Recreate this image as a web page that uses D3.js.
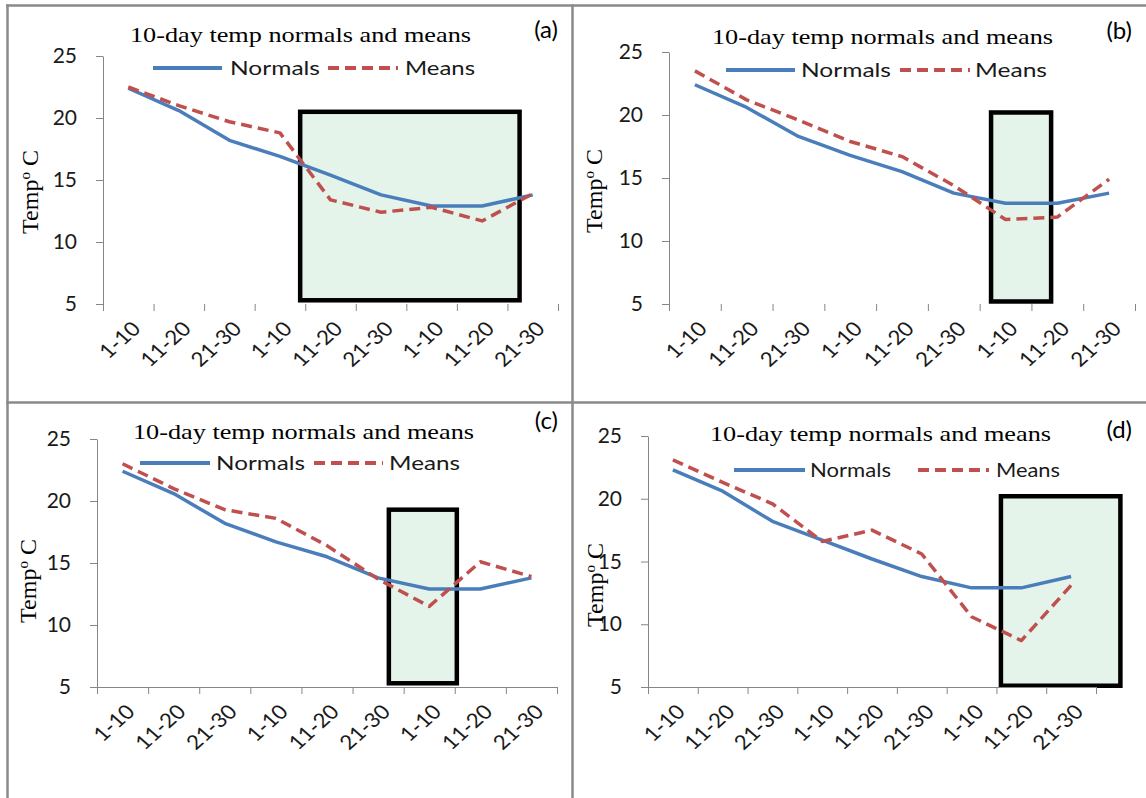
<!DOCTYPE html>
<html>
<head>
<meta charset="utf-8">
<script src="https://cdn.jsdelivr.net/npm/d3@7"></script>
<style>
  body { margin: 0; background: #fff; }
  svg { display: block; }
</style>
</head>
<body>
<svg id="chart" width="1146" height="798"></svg>
<script>
// x categories: three months split in 10-day blocks
const categories = ["1-10", "11-20", "21-30", "1-10", "11-20", "21-30", "1-10", "11-20", "21-30"];
const yTicks = [5, 10, 15, 20, 25];

const normalsA = [22.4, 20.6, 18.2, 16.9, 15.4, 13.8, 12.9, 12.9, 13.8];
const meansA   = [22.5, 21.0, 19.7, 18.8, 13.4, 12.4, 12.8, 11.7, 13.9];
const normalsB = [22.4, 20.6, 18.3, 16.8, 15.5, 13.8, 13.0, 13.0, 13.8];
const meansB   = [23.5, 21.2, 19.6, 17.9, 16.7, 14.4, 11.7, 11.9, 14.9];
const normalsC = [22.4, 20.6, 18.2, 16.7, 15.5, 13.8, 12.9, 12.9, 13.8];
const meansC   = [23.0, 21.0, 19.3, 18.6, 16.4, 13.7, 11.5, 15.1, 13.9];
const normalsD = [22.3, 20.6, 18.2, 16.7, 15.2, 13.8, 12.9, 12.9, 13.8];
const meansD   = [23.1, 21.3, 19.6, 16.6, 17.5, 15.6, 10.6, 8.7, 13.1];

// highlighted periods: [from category, to category, low temp, high temp]
const boxA = [3.9, 8.24, 5.3, 20.5];
const boxB = [6.22, 7.38, 5.2, 20.2];
const boxC = [5.71, 7.04, 5.3, 19.3];
const boxD = [7.09, 9.49, 5.1, 20.2];

const blue = "#4a7ebb", red = "#c0504d", axisColor = "#868686";

const panels = [
  { label: "(a)", normals: normalsA, means: meansA, box: boxA, baseline: false,
    left: 103, right: 558, top: 56, bottom: 304, titleX: 130, titleY: 42,
    legY: 68, leg: [153, 222, 230, 320, 328, 398, 405, 475], yTitle: [30, 192], labelPos: [558, 38] },
  { label: "(b)", normals: normalsB, means: meansB, box: boxB, baseline: false,
    left: 669, right: 1135, top: 52, bottom: 304, titleX: 712, titleY: 44,
    legY: 70, leg: [726, 795, 801, 891, 900, 970, 975, 1047], yTitle: [594, 191], labelPos: [1132, 39] },
  { label: "(c)", normals: normalsC, means: meansC, box: boxC, baseline: true,
    left: 97, right: 557, top: 439, bottom: 687, titleX: 133, titleY: 439,
    legY: 463, leg: [140, 210, 216, 305, 314, 383, 389, 460], yTitle: [28, 581], labelPos: [558, 429] },
  { label: "(d)", normals: normalsD, means: meansD, box: boxD, baseline: true,
    left: 648, right: 1096, top: 436, bottom: 687, titleX: 710, titleY: 441,
    legY: 470, leg: [734, 805, 810, 891, 918, 989, 996, 1060], yTitle: [595, 585], labelPos: [1132, 438] }
];

const svg = d3.select("#chart");
svg.append("rect").attr("width", 1146).attr("height", 798).attr("fill", "#fff");

// frame lines between the four panels
const frame = svg.append("g").attr("stroke", "#8a8a8a").attr("stroke-width", 2.5);
frame.append("line").attr("x1", 7.5).attr("x2", 7.5).attr("y1", 4.5).attr("y2", 798);
frame.append("line").attr("x1", 6).attr("x2", 1146).attr("y1", 5.5).attr("y2", 5.5);
frame.append("line").attr("x1", 572.5).attr("x2", 572.5).attr("y1", 4.5).attr("y2", 798);
frame.append("line").attr("x1", 6).attr("x2", 1146).attr("y1", 402.5).attr("y2", 402.5);

panels.forEach(drawPanel);

function drawPanel(p) {
  const g = svg.append("g");
  const idx = d3.range(categories.length);
  const x = d3.scaleBand().domain(idx).range([p.left, p.right]);
  const xs = d3.scaleLinear().domain([0, categories.length]).range([p.left, p.right]);
  const y = d3.scaleLinear().domain([5, 25]).range([p.bottom, p.top]);

  // highlight box
  g.append("rect")
    .attr("x", xs(p.box[0]))
    .attr("y", y(p.box[3]))
    .attr("width", xs(p.box[1]) - xs(p.box[0]))
    .attr("height", y(p.box[2]) - y(p.box[3]))
    .attr("fill", "#e4f4ea")
    .attr("stroke", "#000")
    .attr("stroke-width", 4.5);

  // y axis
  const yAxis = g.append("g")
    .attr("transform", "translate(" + p.left + ",0)")
    .call(d3.axisLeft(y).tickValues(yTicks).tickSize(7).tickSizeOuter(0).tickPadding(19));
  yAxis.select(".domain").attr("stroke", axisColor);
  yAxis.selectAll(".tick line").attr("stroke", axisColor);
  yAxis.selectAll(".tick text")
    .attr("font-family", "Lato, 'Open Sans', sans-serif")
    .attr("font-size", 21)
    .attr("fill", "#1a1a1a");

  // x axis: ticks on category boundaries
  const xAxis = g.append("g")
    .attr("transform", "translate(0," + p.bottom + ")")
    .call(d3.axisBottom(xs).tickValues(d3.range(categories.length + 1)).tickSize(7)
      .tickSizeOuter(0).tickFormat(""));
  xAxis.select(".domain").attr("stroke", p.baseline ? axisColor : "none");
  xAxis.selectAll(".tick line").attr("stroke", axisColor);

  g.selectAll(".xlab")
    .data(categories)
    .join("text")
    .attr("class", "xlab")
    .attr("transform", (d, i) => "translate(" + (x(i) + x.bandwidth() / 2 + 8) + "," + (p.bottom + 21) + ") scale(1.12,1) rotate(-45)")
    .attr("text-anchor", "end")
    .attr("dy", "0.35em")
    .attr("font-family", "Lato, 'Open Sans', sans-serif")
    .attr("font-size", 20)
    .attr("fill", "#1a1a1a")
    .text(d => d);

  // series
  const line = d3.line()
    .x((d, i) => x(i) + x.bandwidth() / 2)
    .y(d => y(d));

  g.append("path")
    .attr("d", line(p.normals))
    .attr("fill", "none")
    .attr("stroke", blue)
    .attr("stroke-width", 3.5)
    .attr("stroke-linejoin", "round");

  g.append("path")
    .attr("d", line(p.means))
    .attr("fill", "none")
    .attr("stroke", red)
    .attr("stroke-width", 3.5)
    .attr("stroke-linejoin", "round")
    .attr("stroke-dasharray", "11,6");

  // title
  g.append("text")
    .attr("x", p.titleX)
    .attr("y", p.titleY)
    .attr("textLength", 341)
    .attr("lengthAdjust", "spacingAndGlyphs")
    .attr("font-family", "'Liberation Serif', 'Times New Roman', serif")
    .attr("font-size", 22)
    .attr("fill", "#000")
    .text("10-day temp normals and means");

  // legend
  const L = p.leg;
  g.append("line").attr("x1", L[0]).attr("x2", L[1]).attr("y1", p.legY).attr("y2", p.legY)
    .attr("stroke", blue).attr("stroke-width", 4);
  g.append("text").attr("x", L[2]).attr("y", p.legY).attr("dy", "0.35em")
    .attr("textLength", L[3] - L[2]).attr("lengthAdjust", "spacingAndGlyphs")
    .attr("font-family", "Lato, 'Open Sans', sans-serif").attr("font-size", 19)
    .attr("fill", "#1a1a1a").text("Normals");
  g.append("line").attr("x1", L[4]).attr("x2", L[5]).attr("y1", p.legY).attr("y2", p.legY)
    .attr("stroke", red).attr("stroke-width", 4).attr("stroke-dasharray", "11,6");
  g.append("text").attr("x", L[6]).attr("y", p.legY).attr("dy", "0.35em")
    .attr("textLength", L[7] - L[6]).attr("lengthAdjust", "spacingAndGlyphs")
    .attr("font-family", "Lato, 'Open Sans', sans-serif").attr("font-size", 19)
    .attr("fill", "#1a1a1a").text("Means");

  // y axis title
  const yt = g.append("text")
    .attr("transform", "translate(" + p.yTitle[0] + "," + p.yTitle[1] + ") rotate(-90)")
    .attr("text-anchor", "middle")
    .attr("dy", "0.35em")
    .attr("font-family", "'Liberation Serif', 'Times New Roman', serif")
    .attr("font-size", 24)
    .attr("fill", "#000");
  yt.append("tspan").text("Temp");
  yt.append("tspan").attr("baseline-shift", "super").attr("font-size", 15).text("o");
  yt.append("tspan").text(" C");

  // panel label
  g.append("text")
    .attr("x", p.labelPos[0])
    .attr("y", p.labelPos[1])
    .attr("text-anchor", "end")
    .attr("font-family", "Lato, 'Open Sans', sans-serif")
    .attr("font-size", 24)
    .attr("fill", "#000")
    .text(p.label);
}
</script>
</body>
</html>
